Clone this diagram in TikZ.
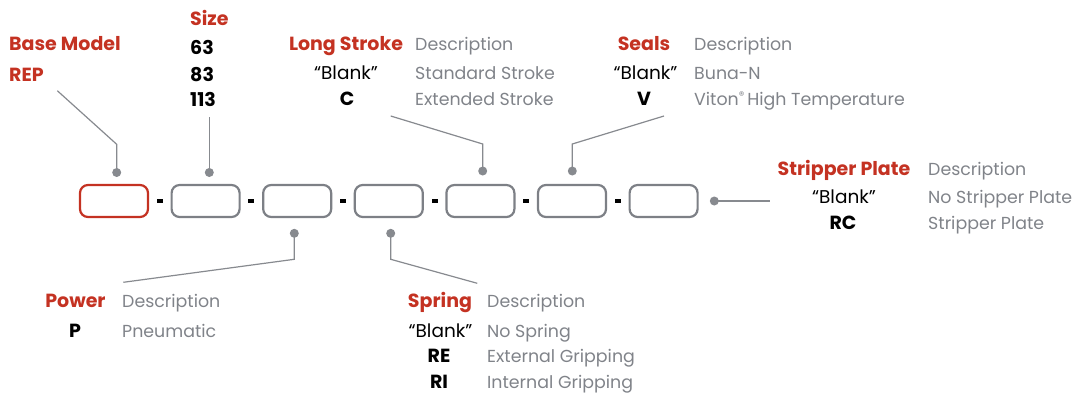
\documentclass[tikz,border=0pt]{standalone}
\usepackage{fontspec}
\setmainfont{Poppins}
\definecolor{accent}{RGB}{196,50,34}
\definecolor{desc}{RGB}{128,131,137}
\definecolor{wire}{RGB}{135,138,143}
\definecolor{boxgray}{RGB}{125,128,134}
\tikzset{
  codebox/.style={draw=boxgray, line width=2.2pt, rounded corners=8pt, minimum width=68pt, minimum height=32pt, inner sep=0pt},
  firstbox/.style={codebox, draw=accent},
  dashmark/.style={fill=black, minimum width=6pt, minimum height=3.8pt, inner sep=0pt},
  pin/.style={circle, fill=wire, minimum size=9pt, inner sep=0pt},
  wireline/.style={draw=wire, line width=1.2pt},
  head/.style={font=\fontsize{19}{19}\selectfont\bfseries, text=accent, inner sep=0pt},
  code/.style={font=\fontsize{19}{19}\selectfont\bfseries, text=black, inner sep=0pt},
  blank/.style={font=\fontsize{18.5}{18.5}\selectfont, text=black, inner sep=0pt},
  descr/.style={font=\fontsize{17.4}{17.4}\selectfont, text=desc, inner sep=0pt, anchor=base west},
}
\begin{document}
\begin{tikzpicture}[x=1pt,y=-1pt]
\useasboundingbox (0,0) rectangle (1088,394);
% boxes
\node[firstbox] (b1) at (114,201) {};
\node[codebox] (b2) at (205.6,201) {};
\node[codebox] (b3) at (297.2,201) {};
\node[codebox] (b4) at (388.8,201) {};
\node[codebox] (b5) at (480.4,201) {};
\node[codebox] (b6) at (572,201) {};
\node[codebox] (b7) at (663.6,201) {};
% dashes
\node[dashmark] (d1) at (159.8,201) {};
\node[dashmark] (d2) at (251.4,201) {};
\node[dashmark] (d3) at (343,201) {};
\node[dashmark] (d4) at (434.6,201) {};
\node[dashmark] (d5) at (526.2,201) {};
\node[dashmark] (d6) at (617.8,201) {};
% pins
\node[pin] (p1) at (116.7,172.5) {};
\node[pin] (p2) at (209.3,172.5) {};
\node[pin] (p5) at (482.7,171) {};
\node[pin] (p6) at (572.3,171) {};
\node[pin] (p3) at (294.3,233.3) {};
\node[pin] (p4) at (390.7,233.3) {};
\node[pin] (p7) at (714.3,201) {};
% bends and ends
\coordinate (k1) at (116.7,144.3);
\coordinate (e1) at (57.3,90.7);
\coordinate (e2) at (209.3,117);
\coordinate (k5) at (482.7,144);
\coordinate (e5) at (390.7,116);
\coordinate (k6) at (572.3,144);
\coordinate (e6) at (664,116);
\coordinate (k3) at (294.3,259.3);
\coordinate (e3) at (123.3,282.3);
\coordinate (k4) at (390.7,259.3);
\coordinate (e4) at (477.3,283.3);
\coordinate (e7) at (770,201);
% wires
\draw[wireline] (p1.center) -- (k1) -- (e1);
\draw[wireline] (p2.center) -- (e2);
\draw[wireline] (p5.center) -- (k5) -- (e5);
\draw[wireline] (p6.center) -- (k6) -- (e6);
\draw[wireline] (p3.center) -- (k3) -- (e3);
\draw[wireline] (p4.center) -- (k4) -- (e4);
\draw[wireline] (p7.center) -- (e7);
% Base model
\node[head, anchor=base west] (bmh) at (9,50) {Base Model};
\node[head, anchor=base west] (bmc) at (9,81) {REP};
% Size
\node[head, anchor=base west] (szh) at (190,25.7) {Size};
\node[code, anchor=base west] (sz1) at (190,54) {63};
\node[code, anchor=base west] (sz2) at (190,81) {83};
\node[code, anchor=base west] (sz3) at (190,106) {113};
% Long stroke
\node[head, anchor=base] (lsh) at (346,50) {Long Stroke};
\node[descr] (lsd) at (415,50) {Description};
\node[blank, anchor=base] (lsb) at (346,79) {“Blank”};
\node[descr] (lsbd) at (415,79) {Standard Stroke};
\node[code, anchor=base] (lsc) at (347,105) {C};
\node[descr] (lscd) at (415,105) {Extended Stroke};
% Seals
\node[head, anchor=base] (seh) at (644,50) {Seals};
\node[descr] (sed) at (694,50) {Description};
\node[blank, anchor=base] (seb) at (645.5,79) {“Blank”};
\node[descr] (sebd) at (694,79) {Buna-N};
\node[code, anchor=base] (sev) at (644,105) {V};
\node[descr] (sevd) at (694,105) {Viton\raisebox{0.3em}{\fontsize{11}{11}\selectfont\textregistered}\,High Temperature};
% Stripper plate
\node[head, anchor=base] (sph) at (844,175) {Stripper Plate};
\node[descr] (spd) at (928,175) {Description};
\node[blank, anchor=base] (spb) at (844,203) {“Blank”};
\node[descr] (spbd) at (928,203) {No Stripper Plate};
\node[code, anchor=base] (sprc) at (843,229) {RC};
\node[descr] (sprcd) at (928,229) {Stripper Plate};
% Power
\node[head, anchor=base] (pwh) at (75.5,307) {Power};
\node[descr] (pwd) at (122,307) {Description};
\node[code, anchor=base] (pwp) at (75,337) {P};
\node[descr] (pwpd) at (122,337) {Pneumatic};
% Spring
\node[head, anchor=base] (srh) at (440,307) {Spring};
\node[descr] (srd) at (487,307) {Description};
\node[blank, anchor=base] (srb) at (440.5,337) {“Blank”};
\node[descr] (srbd) at (487,337) {No Spring};
\node[code, anchor=base] (sre) at (439,362) {RE};
\node[descr] (sred) at (487,362) {External Gripping};
\node[code, anchor=base] (sri) at (439,388) {RI};
\node[descr] (srid) at (487,388) {Internal Gripping};
\end{tikzpicture}
\end{document}
